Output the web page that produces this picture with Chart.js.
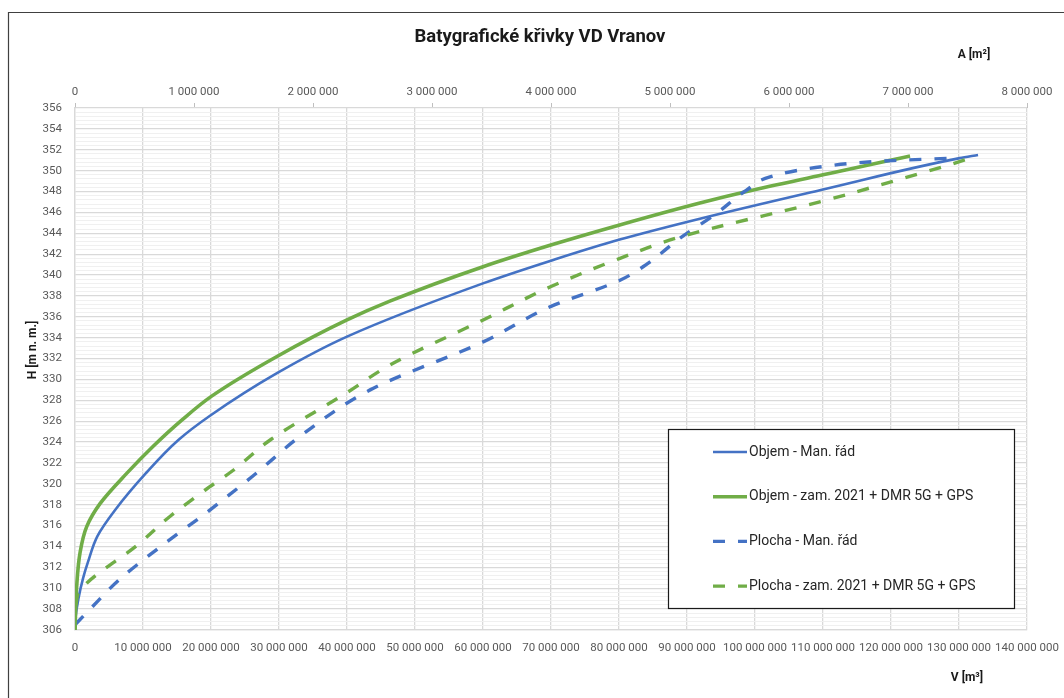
<!DOCTYPE html>
<html>
<head>
<meta charset="utf-8">
<script src="https://cdn.jsdelivr.net/npm/chart.js@4/dist/chart.umd.min.js"></script>
<style>
  html, body { margin: 0; padding: 0; background: #fff; }
  #wrap { position: relative; width: 1064px; height: 698px; }
</style>
</head>
<body>
<div id="wrap"><canvas id="c" width="1064" height="698"></canvas></div>
<script>
const FONT = 'Roboto, "Liberation Sans", sans-serif';

const chartTitle = 'Batygrafické křivky VD Vranov';
const axisTitleV = 'V [m³]';
const axisTitleA = 'A [m²]';
const axisTitleH = 'H [m n. m.]';
const seriesNames = [
  'Objem - Man. řád',
  'Objem - zam. 2021 + DMR 5G + GPS',
  'Plocha - Man. řád',
  'Plocha - zam. 2021 + DMR 5G + GPS'
];

// Objem - Man. řád : hladina H [m n. m.] a objem V [m3]
const hObjemMR = [306.0, 307.3, 309.0, 311.0, 312.5, 315.0, 317.5, 321.0, 324.2, 326.5, 330.6, 334.1, 339.2, 341.4, 343.4, 345.4, 348.2, 351.2, 351.5];
const vObjemMR = [0, 0.1e6, 0.5e6, 1.2e6, 1.9e6, 3.3e6, 5.9e6, 10.4e6, 15.2e6, 19.8e6, 29.7e6, 40.0e6, 60.0e6, 70.1e6, 80.1e6, 91.9e6, 110.0e6, 130.1e6, 132.8e6];

// Objem - zaměření 2021 + DMR 5G + GPS
const hObjem21 = [306.0, 310.2, 313.4, 315.9, 318.1, 321.0, 323.6, 326.1, 328.4, 332.2, 335.7, 337.5, 340.8, 342.9, 344.8, 346.9, 348.0, 349.6, 351.0, 351.4];
const vObjem21 = [0, 0.25e6, 0.74e6, 1.72e6, 3.68e6, 7.6e6, 11.5e6, 15.7e6, 20.1e6, 29.7e6, 40.0e6, 46.3e6, 60.0e6, 70.1e6, 80.1e6, 91.9e6, 98.8e6, 110.0e6, 119.9e6, 122.8e6];

// Plocha - Man. řád : zatopená plocha A [m2]
const hPlochaMR = [306.5, 307.8, 310.8, 314.0, 317.2, 320.8, 324.8, 329.0, 333.6, 337.0, 339.5, 341.0, 343.5, 345.9, 348.1, 349.4, 350.4, 350.9, 351.2];
const aPlochaMR = [0, 0.11e6, 0.37e6, 0.72e6, 1.10e6, 1.50e6, 1.92e6, 2.48e6, 3.43e6, 4.00e6, 4.58e6, 4.80e6, 5.08e6, 5.39e6, 5.64e6, 5.84e6, 6.29e6, 6.76e6, 7.37e6];

// Plocha - zaměření 2021 + DMR 5G + GPS
const hPlocha21 = [306.0, 309.3, 310.5, 314.1, 316.9, 319.7, 321.3, 324.2, 328.7, 331.4, 335.7, 338.9, 341.6, 343.6, 347.1, 348.9, 350.5, 351.4];
const aPlocha21 = [0, 0.02e6, 0.10e6, 0.52e6, 0.80e6, 1.13e6, 1.33e6, 1.64e6, 2.28e6, 2.65e6, 3.43e6, 4.00e6, 4.58e6, 5.07e6, 6.29e6, 6.85e6, 7.33e6, 7.58e6];

// osy
const vAxis = { min: 0, max: 140e6, step: 10e6 };
const aAxis = { min: 0, max: 8e6, step: 1e6 };
const hAxis = { min: 306, max: 356, labelStep: 2, gridStep: 0.4 };

const BLUE = '#4472C4';
const GREEN = '#70AD47';

const fmt = v => String(Math.round(v)).replace(/\B(?=(\d{3})+(?!\d))/g, ' ');
const isMajorH = v => Math.abs(v / hAxis.labelStep - Math.round(v / hAxis.labelStep)) < 1e-6;

function series(label, hs, xs, color, width, dash, axis, order) {
  return {
    label,
    data: hs.map((h, i) => ({ x: xs[i], y: h })),
    borderColor: color,
    backgroundColor: color,
    borderWidth: width,
    borderDash: dash,
    borderCapStyle: 'butt',
    borderJoinStyle: 'round',
    xAxisID: axis,
    yAxisID: 'y',
    showLine: true,
    fill: false,
    pointRadius: 0,
    pointHoverRadius: 0,
    cubicInterpolationMode: 'monotone',
    order
  };
}

const datasets = [
  series(seriesNames[0], hObjemMR, vObjemMR, BLUE, 2.6, [], 'x', 3),
  series(seriesNames[1], hObjem21, vObjem21, GREEN, 3.6, [], 'x', 2),
  series(seriesNames[2], hPlochaMR, aPlochaMR, BLUE, 3.4, [12, 13], 'x2', 1),
  series(seriesNames[3], hPlocha21, aPlocha21, GREEN, 3.4, [12, 13], 'x2', 0)
];

// rámeček grafu, nadpis, popisky os a legenda
const decorations = {
  id: 'decorations',
  beforeDraw(chart) {
    const ctx = chart.ctx;
    ctx.save();
    ctx.strokeStyle = '#404040';
    ctx.lineWidth = 1.2;
    ctx.beginPath();
    ctx.moveTo(8.5, chart.height);
    ctx.lineTo(8.5, 12.5);
    ctx.lineTo(chart.width, 12.5);
    ctx.stroke();
    ctx.fillStyle = '#1a1a1a';
    ctx.font = 'bold 18.5px ' + FONT;
    ctx.textAlign = 'center';
    ctx.textBaseline = 'middle';
    ctx.fillText(chartTitle, 540, 37);
    ctx.restore();
  },
  afterDatasetsDraw(chart) {
    const ctx = chart.ctx;
    const box = { x: 668.5, y: 429.5, w: 346, h: 179 };
    ctx.save();
    ctx.fillStyle = '#ffffff';
    ctx.fillRect(box.x, box.y, box.w, box.h);
    ctx.strokeStyle = '#1a1a1a';
    ctx.lineWidth = 1.2;
    ctx.strokeRect(box.x, box.y, box.w, box.h);
    chart.data.datasets.forEach((ds, i) => {
      const y = 452 + i * 44.7;
      ctx.beginPath();
      ctx.strokeStyle = ds.borderColor;
      ctx.lineWidth = ds.borderWidth;
      ctx.setLineDash(ds.borderDash || []);
      ctx.lineCap = 'butt';
      ctx.moveTo(713, y);
      ctx.lineTo(747, y);
      ctx.stroke();
      ctx.setLineDash([]);
      ctx.fillStyle = '#262626';
      ctx.font = '14px ' + FONT;
      ctx.textBaseline = 'middle';
      ctx.textAlign = 'left';
      ctx.fillText(ds.label, 749, y);
    });
    ctx.restore();
  },
  afterDraw(chart) {
    const ctx = chart.ctx;
    const area = chart.chartArea;
    ctx.save();
    ctx.fillStyle = '#1a1a1a';
    ctx.font = 'bold 12px ' + FONT;
    ctx.textAlign = 'center';
    ctx.textBaseline = 'middle';
    ctx.fillText(axisTitleA, area.right - 53, 55);
    ctx.fillText(axisTitleV, area.right - 60, 678);
    ctx.translate(33, 350);
    ctx.rotate(-Math.PI / 2);
    ctx.fillText(axisTitleH, 0, 0);
    ctx.restore();
  }
};

const tickFont = { family: FONT, size: 11.5 };
const TOP_AXIS_H = 54;

new Chart(document.getElementById('c'), {
  type: 'scatter',
  data: { datasets },
  plugins: [decorations],
  options: {
    indexAxis: 'y',
    responsive: false,
    animation: false,
    layout: { padding: { left: 0, right: 37, top: 108 - TOP_AXIS_H, bottom: 0 } },
    plugins: {
      legend: { display: false },
      tooltip: { enabled: false },
      title: { display: false }
    },
    scales: {
      x: {
        type: 'linear',
        position: 'bottom',
        min: vAxis.min,
        max: vAxis.max,
        ticks: { stepSize: vAxis.step, callback: fmt, font: tickFont, color: '#595959', padding: 5, maxRotation: 0, autoSkip: false },
        grid: { color: '#d9d9d9', lineWidth: 1.3, tickLength: 6, tickColor: 'rgba(0,0,0,0)' },
        border: { color: '#d9d9d9', width: 1.3 },
        afterFit(s) { s.height = 68; }
      },
      x2: {
        type: 'linear',
        position: 'top',
        min: aAxis.min,
        max: aAxis.max,
        ticks: { stepSize: aAxis.step, callback: fmt, font: tickFont, color: '#595959', padding: 4, maxRotation: 0, autoSkip: false },
        grid: { drawOnChartArea: false, tickLength: 5, color: '#bfbfbf', lineWidth: 1 },
        border: { display: false },
        afterFit(s) { s.height = TOP_AXIS_H; }
      },
      y: {
        type: 'linear',
        position: 'left',
        min: hAxis.min,
        max: hAxis.max,
        afterBuildTicks(s) {
          const n = Math.round((hAxis.max - hAxis.min) / hAxis.gridStep);
          const t = [];
          for (let i = 0; i <= n; i++) t.push({ value: Math.round((hAxis.min + i * hAxis.gridStep) * 10) / 10 });
          s.ticks = t;
        },
        ticks: {
          autoSkip: false,
          font: tickFont,
          color: '#595959',
          padding: 5,
          callback: v => (isMajorH(v) ? String(Math.round(v)) : '')
        },
        grid: {
          color: c => (isMajorH(c.tick.value) ? '#d9d9d9' : '#f0f0f0'),
          lineWidth: c => (isMajorH(c.tick.value) ? 1.3 : 1),
          tickLength: 8,
          tickColor: 'rgba(0,0,0,0)'
        },
        border: { color: '#d9d9d9', width: 1.3 },
        afterFit(s) { s.width = 75; }
      }
    }
  }
});
</script>
</body>
</html>
